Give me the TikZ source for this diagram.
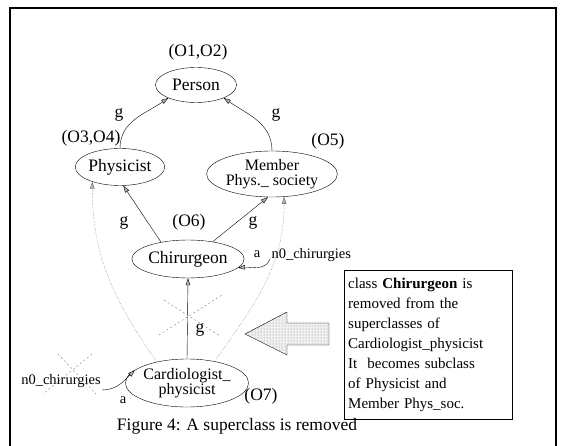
\documentclass[tikz,border=0pt]{standalone}
\usepackage{fontspec}
\setmainfont{Liberation Serif}
\usetikzlibrary{arrows.meta,patterns,shapes.geometric}
\tikzset{
    cls/.style={draw, ellipse, inner sep=0pt, align=center, font=\fontsize{17.5}{18}\selectfont},
    cls2/.style={cls, font=\fontsize{16}{17}\selectfont},
    lbl/.style={font=\fontsize{17.5}{18}\selectfont},
    small/.style={font=\fontsize{14.5}{16}\selectfont},
    gen/.style={-{Triangle[length=7pt,width=4.5pt,fill=gray!60]}, thin},
    deriv/.style={gen, densely dotted, black!60},
    cancel/.style={gray, dash pattern=on 2pt off 2.5pt, thin},
}
\begin{document}
\begin{tikzpicture}[x=1pt,y=-1pt]
\useasboundingbox (0,0) rectangle (564,446);
\draw[line width=1.4pt] (10,446) -- (10,8) -- (556,8) -- (556,446);

\node[cls, minimum width=81, minimum height=35] (person) at (196,85) {Person};
\node[cls, minimum width=81, minimum height=37] (phys) at (120,167) {Physicist};
\node[cls2, minimum width=117, minimum height=46] (member) at (272,174) {Member\\[-2pt]Phys.\_ society};
\node[cls, minimum width=95, minimum height=38] (chir) at (188,259) {Chirurgeon};
\node[cls2, minimum width=108, minimum height=48] (cardio) at (187,383) {Cardiologist\_\\[-2pt]physicist};

\node[lbl] (o12) at (198,52) {(O1,O2)};
\node[lbl] (o34) at (91,138) {(O3,O4)};
\node[lbl] (o5) at (328,141) {(O5)};
\node[lbl] (o6) at (189,222) {(O6)};
\node[lbl] (o7) at (261,396) {(O7)};

\draw[gen] (phys.north) to[out=90, in=215] (person.205);
\draw[gen] (member.north) to[out=90, in=-35] (person.-25);
\draw[gen] (chir.148) -- (phys.-80);
\draw[gen] (chir.35) -- (member.-100);
\draw[gen] (cardio.north) -- (chir.south);
\node[lbl] at (119,115) {g};
\node[lbl] at (276,115) {g};
\node[lbl] at (124,223) {g};
\node[lbl] at (253,223) {g};
\node[lbl] at (200,330) {g};

\draw[deriv] (cardio.145) to[out=125, in=-90] (phys.208);
\draw[deriv] (cardio.38) to[out=55, in=-90] (member.-62);

\draw[cancel] (164,300) -- (220,336);
\draw[cancel] (159,335) -- (222,295);

\node[small] (aa) at (257,254) {a};
\node[small, anchor=west] (n0a) at (268,255) {n0\_chirurgies};
\coordinate (loopa) at (270,259);
\draw[gen] (loopa) to[out=-110, in=5] (chir.-10);

\node[small] (n0b) at (61,381) {n0\_chirurgies};
\node[small] (ab) at (123,400) {a};
\coordinate (loopb) at (102,390);
\draw[gen] (loopb) to[out=0, in=225] (cardio.166);
\draw[cancel] (58,354) -- (96,394);
\draw[cancel] (92,354) -- (43,394);

\fill[gray!12] (245,334) -- (287,312) -- (287,323) -- (329,323) -- (329,345) -- (287,345) -- (287,355) -- cycle;
\draw[pattern=dots, pattern color=gray] (245,334) -- (287,312) -- (287,323) -- (329,323) -- (329,345) -- (287,345) -- (287,355) -- cycle;

\node[draw, anchor=north west, text width=160, minimum height=149, inner sep=4, align=left,
      font=\fontsize{15}{20}\selectfont] (note) at (344,270)
  {class \textbf{Chirurgeon} is\\ removed from the\\ superclasses of\\ Cardiologist\_physicist\\ It\ \ becomes subclass\\ of Physicist and\\ Member Phys\_soc.};

\node[lbl] (caption) at (237,426) {Figure 4: A superclass is removed};
\end{tikzpicture}
\end{document}
